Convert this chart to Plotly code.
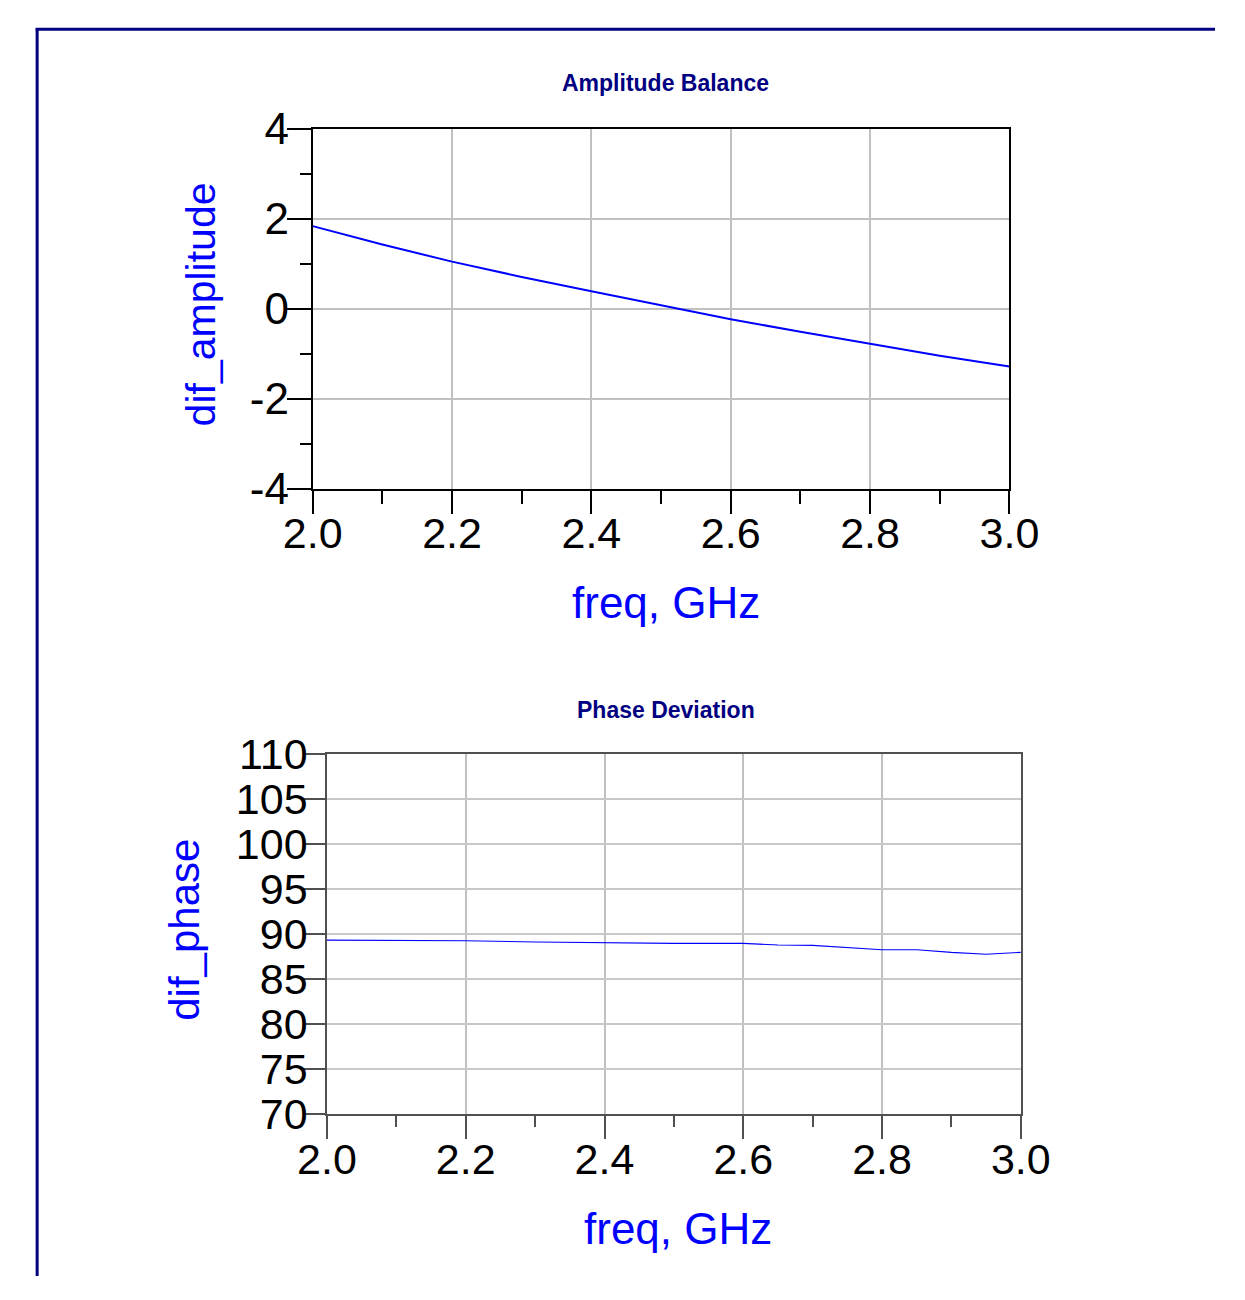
import plotly.graph_objects as go

# ---------------- data ----------------
amp_freq = [2.0, 2.1, 2.2, 2.3, 2.4, 2.5, 2.6, 2.7, 2.8, 2.9, 3.0]
amp_vals = [1.84, 1.43, 1.05, 0.71, 0.39, 0.08, -0.23, -0.51, -0.78, -1.04, -1.28]

ph_freq = [2.0, 2.1, 2.2, 2.3, 2.4, 2.5, 2.6, 2.65, 2.7, 2.75, 2.8, 2.85, 2.9, 2.95, 3.0]
ph_vals = [89.36, 89.35, 89.3, 89.15, 89.05, 89.0, 89.0, 88.82, 88.78, 88.55, 88.3, 88.3, 88.0, 87.8, 88.0]

x_tickvals = [2.0, 2.2, 2.4, 2.6, 2.8, 3.0]
x_ticktext = ["2.0", "2.2", "2.4", "2.6", "2.8", "3.0"]
amp_tickvals = [-4, -2, 0, 2, 4]
amp_ticktext = ["-4", "-2", "0", "2", "4"]
ph_tickvals = [70, 75, 80, 85, 90, 95, 100, 105, 110]
ph_ticktext = ["70", "75", "80", "85", "90", "95", "100", "105", "110"]

title_top = "Amplitude Balance"
title_bot = "Phase Deviation"
xlabel = "freq, GHz"
ylabel_top = "dif_amplitude"
ylabel_bot = "dif_phase"

# ---------------- figure ----------------
W, H = 1245, 1300
FONT = "Liberation Sans, Arial, sans-serif"
BLUE = "#0000ff"
NAVY = "#000080"

def px(x):
    return x / W

def py(y):
    return 1 - y / H

fig = go.Figure()
fig.add_trace(go.Scatter(x=amp_freq, y=amp_vals, mode="lines",
                         line=dict(color=BLUE, width=2), xaxis="x", yaxis="y",
                         showlegend=False, hoverinfo="skip"))
fig.add_trace(go.Scatter(x=ph_freq, y=ph_vals, mode="lines",
                         line=dict(color=BLUE, width=1.1), xaxis="x2", yaxis="y2",
                         showlegend=False, hoverinfo="skip"))

top_frame = "#000000"
bot_frame = "#505050"

common_x = dict(range=[2.0, 3.0], tickvals=x_tickvals, ticktext=x_ticktext,
                ticks="outside", ticklen=23, tickfont=dict(family=FONT, size=43, color="black"),
                showline=True, mirror=True, showgrid=True, gridcolor="#c0c0c0",
                zeroline=False, fixedrange=True, ticklabelstandoff=-17)

fig.update_layout(
    width=W, height=H,
    margin=dict(l=0, r=0, t=0, b=0),
    paper_bgcolor="white", plot_bgcolor="white",
    font=dict(family=FONT),
    xaxis=dict(**common_x, domain=[px(297), px(1029)], anchor="y",
               linecolor=top_frame, linewidth=2, tickcolor=top_frame, tickwidth=2,
               gridwidth=2,
               minor=dict(dtick=0.1, tick0=2.0, ticks="outside", ticklen=13,
                          tickcolor=top_frame, tickwidth=2, showgrid=False)),
    yaxis=dict(range=[-4, 4], tickvals=amp_tickvals, ticktext=amp_ticktext,
               domain=[py(482), py(108)], anchor="x",
               ticks="outside", ticklen=24, tickcolor=top_frame, tickwidth=2,
               tickfont=dict(family=FONT, size=44, color="black"),
               showline=True, mirror=True, linecolor=top_frame, linewidth=2,
               showgrid=True, gridcolor="#c0c0c0", gridwidth=2, zeroline=False,
               ticklabelstandoff=-11,
               minor=dict(dtick=1, tick0=-4, ticks="outside", ticklen=11,
                          tickcolor=top_frame, tickwidth=2, showgrid=False),
               fixedrange=True),
    xaxis2=dict(**common_x, domain=[px(312), px(1041)], anchor="y2",
                linecolor=bot_frame, linewidth=1.5, tickcolor=bot_frame, tickwidth=1.5,
                gridwidth=1.5,
                minor=dict(dtick=0.1, tick0=2.0, ticks="outside", ticklen=11,
                           tickcolor=bot_frame, tickwidth=1.5, showgrid=False)),
    yaxis2=dict(range=[70, 110], tickvals=ph_tickvals, ticktext=ph_ticktext,
                domain=[py(1132), py(758)], anchor="x2",
                ticks="outside", ticklen=22, tickcolor=bot_frame, tickwidth=1.5,
                tickfont=dict(family=FONT, size=43, color="black"),
                showline=True, mirror=True, linecolor=bot_frame, linewidth=1.5,
                showgrid=True, gridcolor="#c8c8c8", gridwidth=1.5, zeroline=False,
                ticklabelstandoff=-13,
                fixedrange=True),
)

ann = []
def text(x, y, s, size, color, bold=False, angle=0):
    ann.append(dict(x=px(x), y=py(y), xref="paper", yref="paper", text=("<b>%s</b>" % s) if bold else s,
                    showarrow=False, xanchor="center", yanchor="middle", textangle=angle,
                    font=dict(family=FONT, size=size, color=color)))

text(668, 60, title_top, 23, NAVY, bold=True)
text(668, 712, title_bot, 23, NAVY, bold=True)
text(668, 600, xlabel, 44, BLUE)
text(681, 1251, xlabel, 44, BLUE)
text(180, 290, ylabel_top, 41, BLUE, angle=-90)
text(162, 940, ylabel_bot, 42, BLUE, angle=-90)
fig.update_layout(annotations=ann)

# outer navy frame (top and left edges)
fig.add_shape(type="line", xref="paper", yref="paper", x0=px(7.5), x1=px(7.5), y0=0, y1=py(3),
              line=dict(color=NAVY, width=3))
fig.add_shape(type="line", xref="paper", yref="paper", x0=px(6), x1=1, y0=py(4.5), y1=py(4.5),
              line=dict(color=NAVY, width=3))

fig.write_html("out.html", config={"displayModeBar": False},
               post_script="document.body.style.margin='0';document.body.style.overflow='hidden';")
